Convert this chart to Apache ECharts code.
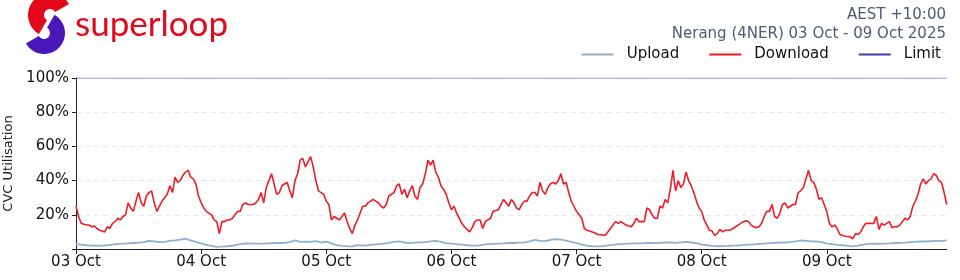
<!DOCTYPE html>
<html><head><meta charset="utf-8">
<script src="https://cdn.jsdelivr.net/npm/echarts@6/dist/echarts.min.js"></script>
<style>html,body{margin:0;padding:0;background:#fff}#c{width:960px;height:280px}</style>
</head><body><div id="c"></div>
<script>
const dayLabels = ['03 Oct','04 Oct','05 Oct','06 Oct','07 Oct','08 Oct','09 Oct'];
const yTicks = [20,40,60,80,100];
// Download, half-hourly from 03 Oct 00:00
const download = [
25,19,15,14.5,14,14,13,13.5,12,11,10.5,10,13,12,15,16,18,17,19,20,27,24,22,28,33,27,25,31,33,34,27,22,25,28,30,32,37,33,42,39,40,43,45,46,42,41,38,31,
27,24,22,21,20,17,16,9,16,16,17,17,18,20,22,22,26,27,26,26,26,27,29,33,27,36,40,44,38,32,33,37,38,39,34,30,40,44,52,53,48,51,54,48,40,34,33,32,
28,26,17,19,18,17,19,21,16,12,9,14,17,21,25,25,27,28,29,28,27,25,24,26,31,32,33,37,38,32,35,30,34,37,31,29,36,38,44,52,49,52,45,42,37,35,32,27,
23,25,21,18,15,13,11.5,10,12.5,16,17,17,12,16,17,18,22,22.5,23,26,29,27,25,29,27,24,23,26,28,28,31,33,33,31,39,34,32,36,38,39,38,40,44,38,39,33,28,25,
22,20,18,12,11,10.5,10,9.5,8.5,8.5,8,8,10,12,14,16,15,16,15,14,13.5,13,15,18,16,16,16,24,23,20,18,18,25,24,29,27,35,46,34,40,36,38,45,40,37,33,28,24,
22,17,14,11,10.5,8,9,11.5,10,11,11,11,12,13,14,15,16,16.5,16,14,13,12.5,13,15,19,22,22,26,19,18,21,26,27,24,25,26,26,33,34,36,41,46,40,39,35,29,30,26,
22,15,13,14,12,8.5,8,7.5,7.3,7,6,9,8.5,10,13,15,15,15,15,19,11.5,15,14,15,16,12.5,13,13,14,16,18,17,19,25,28,32,38,41,38,40,41,44,43,40,39,33,26
];
// Upload, hourly from 03 Oct 00:00
const upload = [
2.9,2.5,2.2,2.0,1.9,2.0,2.2,2.5,3.0,3.1,3.3,3.5,3.7,4.0,4.8,4.4,4.0,4.2,4.8,5.0,5.5,6.0,5.0,4.2,
3.3,2.4,1.8,1.3,1.4,1.6,1.9,2.5,3.2,3.3,3.1,3.2,3.1,3.3,3.5,3.5,3.6,4.0,5.0,4.2,4.3,4.2,4.6,3.8,
4.3,3.3,2.3,1.8,1.6,1.5,2.3,2.0,2.2,2.6,2.9,3.1,3.6,4.2,4.4,3.8,3.4,3.7,3.9,4.0,4.5,4.8,4.2,3.4,
3.2,2.8,2.5,2.2,2.0,2.0,2.4,2.8,3.0,3.2,3.3,3.5,3.5,3.7,3.9,4.4,5.4,4.8,4.6,5.3,5.8,5.5,4.9,4.2,
3.5,2.6,2.0,1.6,1.5,1.7,2.1,2.4,2.9,3.0,3.2,3.3,3.3,3.4,3.6,3.4,3.6,3.8,3.8,3.6,3.9,4.2,3.8,3.4,
2.6,2.2,1.8,1.6,1.7,1.8,2.0,2.1,2.3,2.5,2.7,3.0,3.2,3.4,3.6,3.8,3.8,4.0,4.4,5.0,4.8,4.5,4.4,4.0,
3.1,2.8,2.4,2.2,1.8,1.5,2.0,2.6,3.0,3.1,3.0,3.2,3.3,3.5,3.6,3.7,4.0,4.2,4.4,4.4,4.6,4.8,4.8,5.0
];
const limitValue = 100;
const lastHour = upload.length - 1;

const chart = echarts.init(document.getElementById('c'), null, {renderer:'canvas'});
const F = 'DejaVu Sans';
chart.setOption({
  animation:false,
  textStyle:{fontFamily:F},
  grid:{left:76, right:13.3, top:78, bottom:31, containLabel:false, outerBoundsMode:'none'},
  legend:{
    right:14, top:42, itemWidth:32, itemHeight:2, icon:'rect', itemGap:30,
    textStyle:{fontFamily:F, fontSize:15, color:'#111', padding:[0,0,0,8]},
    data:['Upload','Download','Limit']
  },
  xAxis:{
    type:'value', min:0, max:lastHour,
    axisLine:{show:true, lineStyle:{color:'#222', width:1}},
    axisTick:{show:true, length:5, lineStyle:{color:'#222'}, customValues:dayLabels.map((_,i)=>i*24)},
    axisLabel:{fontFamily:F, fontSize:15, color:'#111', margin:6,
      customValues:dayLabels.map((_,i)=>i*24),
      formatter:v=>dayLabels[v/24]||''},
    splitLine:{show:false}
  },
  yAxis:{
    type:'value', min:0, max:100, interval:20,
    name:'CVC Utilisation', nameLocation:'middle', nameGap:55,
    nameTextStyle:{fontFamily:F, fontSize:13, color:'#222'},
    axisLine:{show:true, lineStyle:{color:'#222', width:1}},
    axisTick:{show:true, length:4, lineStyle:{color:'#222'}},
    axisLabel:{fontFamily:F, fontSize:15, color:'#111', margin:7,
      formatter:v=>yTicks.indexOf(v)>=0 ? v+'%' : ''},
    splitLine:{show:true, lineStyle:{type:[5,4], color:'#e4e8f0', width:1}}
  },
  series:[
    {name:'Upload', type:'line', symbol:'none', color:'#8fb0d2',
     lineStyle:{width:1.8, color:'#8fb0d2'}, data:upload.map((v,i)=>[i, v])},
    {name:'Download', type:'line', symbol:'none', color:'#ee1c25',
     lineStyle:{width:1.6, color:'#ee1c25'}, data:download.map((v,i)=>[i*0.5, v])},
    {name:'Limit', type:'line', symbol:'none', color:'#3d3dab',
     lineStyle:{width:1, color:'#7a7ad8'}, data:[[0, limitValue],[lastHour, limitValue]]}
  ],
  graphic:[
    {type:'sector', shape:{cx:50, cy:15, r:22, r0:6, startAngle:Math.PI*2/3, endAngle:Math.PI*11/6, clockwise:true}, style:{fill:'#e3091b'}},
    {type:'sector', shape:{cx:44, cy:33, r:21, r0:6, startAngle:-Math.PI/3, endAngle:Math.PI*5/6, clockwise:true}, style:{fill:'#4a17b8'}},
    {type:'text', left:75, top:7, style:{text:'superloop', font:'35px Lato', fill:'#e3091b'}},
    {type:'text', right:14, top:8, style:{text:'AEST +10:00', font:'15px "DejaVu Sans"', fill:'#4f5a73'}},
    {type:'text', right:14, top:27, style:{text:'Nerang (4NER) 03 Oct - 09 Oct 2025', font:'15px "DejaVu Sans"', fill:'#4f5a73'}}
  ]
});
</script></body></html>
